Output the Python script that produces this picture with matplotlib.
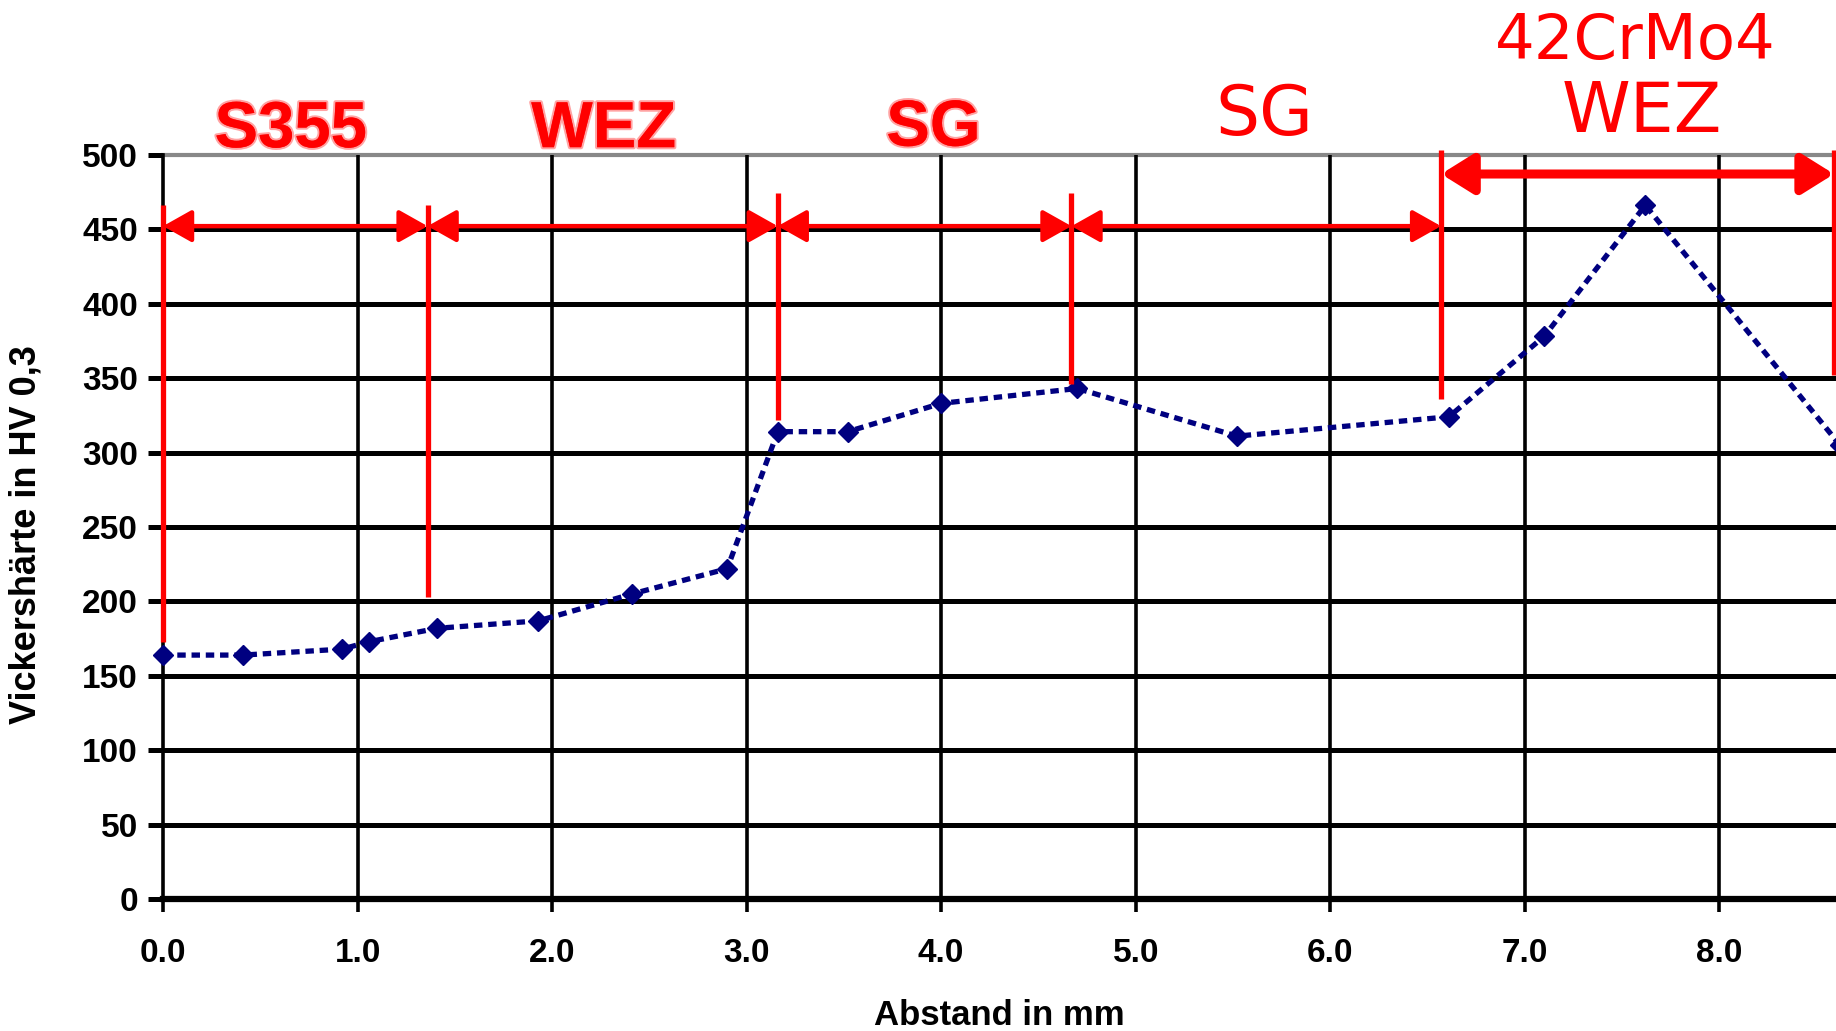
import matplotlib
matplotlib.use("Agg")
import matplotlib.pyplot as plt
import matplotlib.patheffects as pe

# hardness profile (distance in mm, HV 0,3)
abstand = [0.0, 0.41, 0.92, 1.06, 1.41, 1.93, 2.41, 2.90, 3.16, 3.52, 4.0, 4.70, 5.52, 6.61, 7.10, 7.62, 8.62]
haerte = [164, 164, 168, 173, 182, 187, 205, 222, 314, 314, 333, 343, 311, 324, 378, 466, 305]

# zone boundaries: x position, top and bottom of the red marker line
grenzen_x = [0.0, 1.36, 3.16, 4.67, 6.57, 8.59]
grenzen_oben = [466, 466, 474, 474, 503, 503]
grenzen_unten = [173, 203, 322, 346, 336, 352]

# zone labels
zonen = ["S355", "WEZ", "SG", "SG", "42CrMo4", "WEZ"]
zonen_x = [0.657, 2.265, 3.96, 5.66, 7.57, 7.60]
zonen_y = [505, 505, 506, 513, 564, 515]

x_ticks = [0, 1, 2, 3, 4, 5, 6, 7, 8]
y_ticks = [0, 50, 100, 150, 200, 250, 300, 350, 400, 450, 500]

fig = plt.figure(figsize=(18.36, 10.31), dpi=100)
ax = fig.add_axes([0.0888, 0.1277, 1.0 - 0.0888, 0.850 - 0.1277])
ax.set_xlim(0, 8.6)
ax.set_ylim(0, 500)

# grid
for y in y_ticks[1:-1]:
    ax.axhline(y, color="black", lw=3.6, zorder=1)
ax.axhline(500, color="#888888", lw=3.0, zorder=1, clip_on=False)
for x in x_ticks[1:]:
    ax.axvline(x, color="black", lw=2.6, zorder=1)

for s in ["top", "right"]:
    ax.spines[s].set_visible(False)
ax.spines["left"].set_linewidth(2.6)
ax.spines["bottom"].set_linewidth(4.5)

ax.set_xticks(x_ticks)
ax.set_xticklabels([f"{v:.1f}" for v in x_ticks])
ax.set_yticks(y_ticks)
ax.tick_params(axis="x", direction="out", length=9, width=2.6, pad=19)
ax.tick_params(axis="y", direction="out", length=11, width=3.6, pad=7)
for lab in ax.get_xticklabels() + ax.get_yticklabels():
    lab.set_fontfamily("Liberation Sans")
    lab.set_fontweight("bold")
    lab.set_fontsize(24)

ax.set_xlabel("Abstand in mm", fontfamily="Liberation Sans", fontweight="bold",
              fontsize=25, va="center")
ax.xaxis.set_label_coords(0.5, -0.156)
ax.set_ylabel("Vickershärte in HV 0,3", fontfamily="Liberation Sans", fontweight="bold",
              fontsize=26, va="center")
ax.yaxis.set_label_coords(-0.082, 0.49)

# measured curve
ax.plot(abstand, haerte, color="#000080", lw=3.8, ls=(0, (1.6, 1.1)),
        marker="D", markersize=10, zorder=4, clip_on=False)

# red zone markers
for gx, top, bot in zip(grenzen_x, grenzen_oben, grenzen_unten):
    ax.plot([gx, gx], [bot, top], color="red", lw=3.8, zorder=5, clip_on=False,
            solid_capstyle="butt")

for a, b in zip(grenzen_x[:4], grenzen_x[1:5]):
    ax.annotate("", xy=(b, 452), xytext=(a, 452),
                arrowprops=dict(arrowstyle="<|-|>,head_length=0.8,head_width=0.45",
                                color="red", lw=3.2, mutation_scale=22,
                                shrinkA=0, shrinkB=0), zorder=5, annotation_clip=False)
ax.annotate("", xy=(grenzen_x[5], 487), xytext=(grenzen_x[4], 487),
            arrowprops=dict(arrowstyle="<|-|>,head_length=0.8,head_width=0.5",
                            color="red", lw=6.5, mutation_scale=24,
                            shrinkA=0, shrinkB=0), zorder=5, annotation_clip=False)

# zone labels
glow = [pe.withStroke(linewidth=3, foreground=(1, 0.2, 0.2, 0.45))]
for i, (txt, x, y) in enumerate(zip(zonen, zonen_x, zonen_y)):
    if i < 3:
        ax.text(x, y, txt, color="red", fontfamily="Liberation Sans", fontweight="bold",
                fontsize=47, ha="center", va="baseline", clip_on=False, path_effects=glow)
    else:
        size = {3: 50, 4: 45, 5: 50}[i]
        ax.text(x, y, txt, color="red", fontfamily="DejaVu Sans", fontsize=size,
                ha="center", va="baseline", clip_on=False)

fig.savefig("out.png", dpi=100)
